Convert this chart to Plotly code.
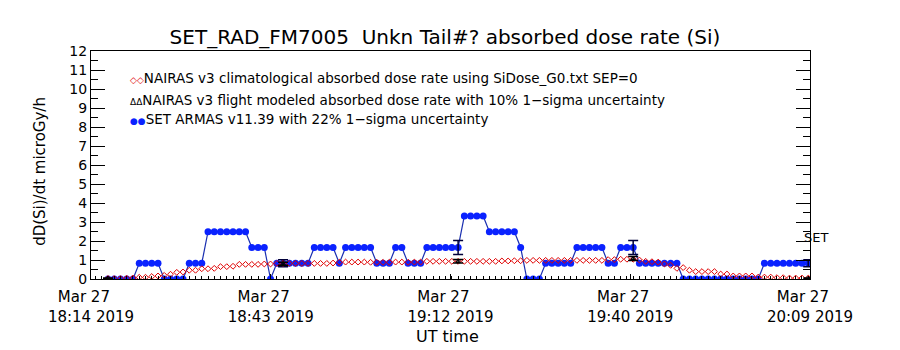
import pandas as pd
import plotly.graph_objects as go

# ---- data ----
axis_start = "2019-03-27 18:14:00"
axis_end = "2019-03-27 20:09:00"
data_start = "2019-03-27 18:16:43"
n_points = 113

tick_vals = ["2019-03-27 18:14:00", "2019-03-27 18:42:45", "2019-03-27 19:11:30",
             "2019-03-27 19:40:15", "2019-03-27 20:09:00"]
tick_text = ["Mar 27\u00a0\u00a0\u00a0<br>18:14 2019", "Mar 27\u00a0\u00a0\u00a0<br>18:43 2019",
             "Mar 27\u00a0\u00a0\u00a0<br>19:12 2019", "Mar 27\u00a0\u00a0\u00a0<br>19:40 2019",
             "Mar 27\u00a0\u00a0\u00a0<br>20:09 2019"]

# SET ARMAS v11.39 absorbed dose rate (microGy/h)
armas = [0, 0, 0, 0, 0,
         0.83, 0.83, 0.83, 0.83,
         0, 0, 0, 0,
         0.83, 0.83, 0.83,
         2.49, 2.49, 2.49, 2.49, 2.49, 2.49, 2.49,
         1.66, 1.66, 1.66,
         0,
         0.83, 0.83, 0.83, 0.83, 0.83, 0.83,
         1.66, 1.66, 1.66, 1.66,
         0.83,
         1.66, 1.66, 1.66, 1.66, 1.66,
         0.83, 0.83, 0.83,
         1.66, 1.66,
         0.83, 0.83, 0.83,
         1.66, 1.66, 1.66, 1.66, 1.66, 1.66,
         3.32, 3.32, 3.32, 3.32,
         2.49, 2.49, 2.49, 2.49, 2.49,
         1.66,
         0, 0, 0,
         0.83, 0.83, 0.83, 0.83, 0.83,
         1.66, 1.66, 1.66, 1.66, 1.66,
         0.83, 0.83,
         1.66, 1.66, 1.66,
         0.83, 0.83, 0.83, 0.83, 0.83, 0.83, 0.83,
         0, 0, 0, 0, 0, 0, 0, 0, 0, 0, 0, 0, 0,
         0.83, 0.83, 0.83, 0.83, 0.83, 0.83, 0.83, 0.83]

# NAIRAS v3 climatological absorbed dose rate
nairas_clim = [0.03, 0.02, 0.02, 0.04, 0.05, 0.09, 0.09, 0.13, 0.16, 0.19,
               0.25, 0.35, 0.37, 0.46, 0.46, 0.54, 0.54, 0.56, 0.65, 0.65,
               0.67, 0.77, 0.77, 0.77, 0.77, 0.79, 0.79, 0.82, 0.82, 0.82,
               0.82, 0.82, 0.82, 0.82, 0.82, 0.82, 0.84, 0.88, 0.89, 0.89,
               0.89, 0.89, 0.88, 0.88, 0.88, 0.88, 0.89, 0.89, 0.88, 0.89,
               0.89, 0.93, 0.93, 0.93, 0.93, 0.93, 0.93, 0.93, 0.93, 0.93,
               0.93, 0.93, 0.93, 0.95, 0.95, 0.96, 0.96, 0.98, 0.98, 0.98,
               0.98, 0.98, 0.98, 0.98, 0.98, 0.98, 0.98, 0.98, 0.98, 0.98,
               1.02, 1.02, 1.04, 1.04, 1.04, 1.00, 0.93, 0.91, 0.89, 0.79,
               0.72, 0.56, 0.60, 0.46, 0.39, 0.39, 0.39, 0.39, 0.26, 0.26,
               0.16, 0.16, 0.16, 0.16, 0.10, 0.10, 0.10, 0.07, 0.07, 0.05,
               0.05, 0.05, 0.05]

# sample indices with uncertainty bars and NAIRAS flight-modeled values
err_idx = [0, 28, 56, 84, 112]
nairas_flight = [0.05, 0.80, 0.93, 1.08, 0.05]
armas_unc = 0.22
nairas_unc = 0.10

legend_lines = [
    ("#e00000", "\u25c7\u25c7", "NAIRAS v3 climatological absorbed dose rate using SiDose_G0.txt SEP=0"),
    ("#000000", "\u0394\u0394", "NAIRAS v3 flight modeled absorbed dose rate with 10% 1\u2212sigma uncertainty"),
    ("#0a22ff", "\u25cf\u25cf", "SET ARMAS v11.39 with 22% 1\u2212sigma uncertainty"),
]

# ---- figure ----
times = pd.date_range(data_start, periods=n_points, freq="60s")
err_times = [times[i] for i in err_idx]
armas_at = [armas[i] for i in err_idx]

FONT = "DejaVu Sans, Liberation Sans, sans-serif"

fig = go.Figure()
fig.add_trace(go.Scatter(
    x=times, y=armas, mode="lines+markers",
    line=dict(color="#1a2fb0", width=1.2),
    marker=dict(symbol="circle", size=7, color="#0a22ff", line=dict(width=0)),
    showlegend=False, hoverinfo="skip"))
fig.add_trace(go.Scatter(
    x=err_times, y=armas_at, mode="markers",
    marker=dict(size=1, color="rgba(0,0,0,0)"),
    error_y=dict(type="data", array=[v * armas_unc for v in armas_at],
                 color="#00003a", thickness=1.5, width=5),
    showlegend=False, hoverinfo="skip"))
fig.add_trace(go.Scatter(
    x=times, y=nairas_clim, mode="markers",
    marker=dict(symbol="diamond-open", size=4.5, color="#e00000", line=dict(width=1)),
    showlegend=False, hoverinfo="skip"))
fig.add_trace(go.Scatter(
    x=err_times, y=nairas_flight, mode="markers",
    marker=dict(symbol="triangle-up-open", size=4, color="#000000", line=dict(width=1)),
    error_y=dict(type="data", array=[v * nairas_unc for v in nairas_flight],
                 color="#000000", thickness=1.5, width=5),
    showlegend=False, hoverinfo="skip"))

annotations = []
leg_y = [0.882, 0.786, 0.702]
for (col, sym, txt), yy in zip(legend_lines, leg_y):
    annotations.append(dict(
        xref="paper", yref="paper", x=0.0515, y=yy, xanchor="left", yanchor="middle",
        text=f"<span style='color:{col};font-size:9px'>{sym}</span>{txt}", showarrow=False,
        font=dict(family=FONT, size=13.5, color="#000000")))

annotations.append(dict(
    xref="paper", yref="paper", x=-0.0709, y=0.47, textangle=-90,
    xanchor="center", yanchor="middle",
    text="dD(Si)/dt microGy/h", showarrow=False,
    font=dict(family=FONT, size=15, color="#000000")))
annotations.append(dict(
    xref="paper", yref="paper", x=0.496, y=-0.254, yanchor="middle",
    text="UT time", showarrow=False,
    font=dict(family=FONT, size=16, color="#000000")))
annotations.append(dict(
    xref="x", yref="y", x=times[-1], y=2.2, xanchor="left", xshift=-6,
    text="SET", showarrow=False,
    font=dict(family=FONT, size=13, color="#000000")))

fig.update_layout(
    width=900, height=350,
    margin=dict(l=91, r=90, t=51, b=71),
    paper_bgcolor="white", plot_bgcolor="white",
    title=dict(text="SET_RAD_FM7005  Unkn Tail#? absorbed dose rate (Si)",
               x=445 / 900, xanchor="center", y=1 - 37 / 350, yanchor="middle",
               font=dict(family=FONT, size=20, color="#000000")),
    annotations=annotations,
    xaxis=dict(
        type="date", range=[axis_start, axis_end],
        tickmode="array", tickvals=tick_vals, ticktext=tick_text,
        ticks="inside", ticklen=5, tickcolor="black", tickwidth=1,
        minor=dict(ticks="inside", ticklen=3, tick0=data_start, dtick=60000,
                   tickcolor="black", tickwidth=1, showgrid=False),
        showline=True, linecolor="black", linewidth=1, mirror=True,
        showgrid=False, zeroline=False, ticklabelstandoff=4,
        tickfont=dict(family=FONT, size=15, color="#000000")),
    yaxis=dict(
        range=[0, 12], tickmode="linear", tick0=0, dtick=1,
        ticks="inside", ticklen=14, tickcolor="black", tickwidth=1,
        minor=dict(ticks="inside", ticklen=7, dtick=0.5, tickcolor="black",
                   tickwidth=1, showgrid=False),
        showline=True, linecolor="black", linewidth=1, mirror="ticks",
        showgrid=False, zeroline=False,
        tickfont=dict(family=FONT, size=14, color="#000000")),
)

fig.write_html("out.html")
